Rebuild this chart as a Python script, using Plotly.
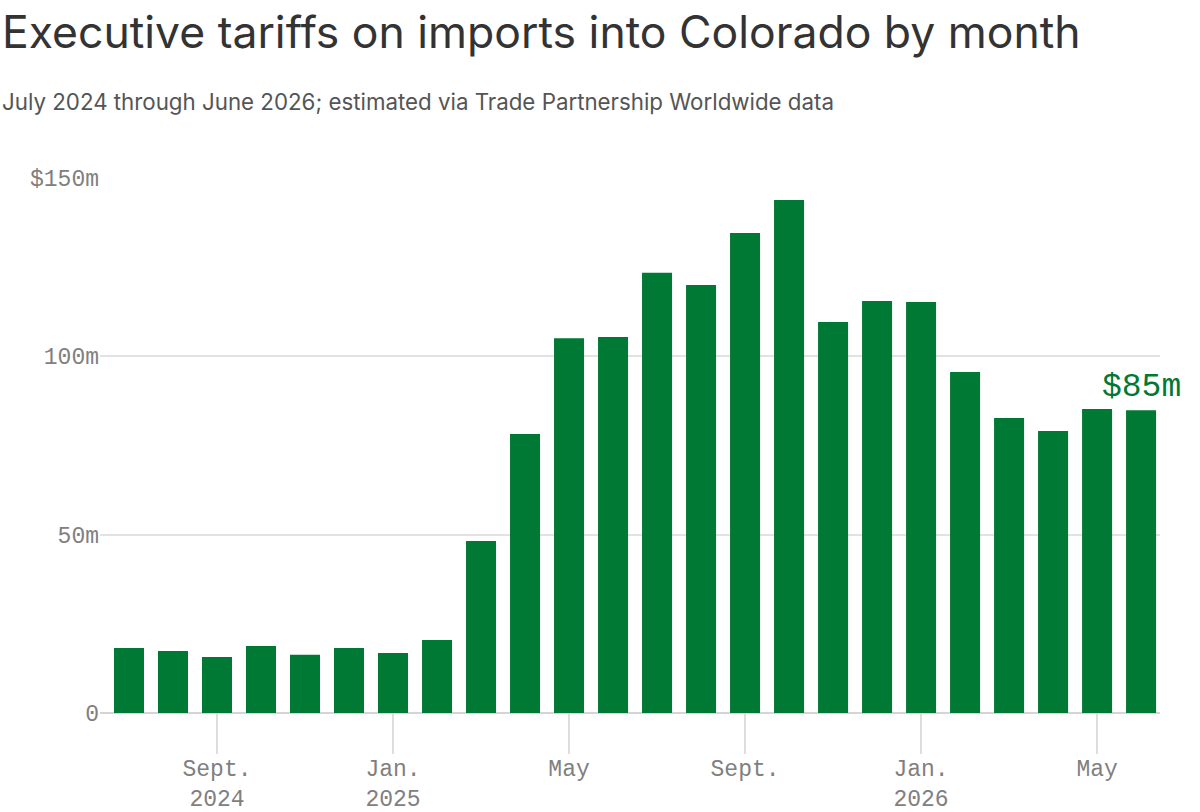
import plotly.graph_objects as go

months = ["Jul 2024", "Aug 2024", "Sep 2024", "Oct 2024", "Nov 2024", "Dec 2024",
          "Jan 2025", "Feb 2025", "Mar 2025", "Apr 2025", "May 2025", "Jun 2025",
          "Jul 2025", "Aug 2025", "Sep 2025", "Oct 2025", "Nov 2025", "Dec 2025",
          "Jan 2026", "Feb 2026", "Mar 2026", "Apr 2026", "May 2026", "Jun 2026"]
tariffs_m = [18.2, 17.4, 15.7, 18.8, 16.3, 18.2, 16.8, 20.5, 48.2, 78.2, 105.1, 105.4,
             123.4, 120.0, 134.6, 143.8, 109.6, 115.5, 115.2, 95.6, 82.7, 79.1, 85.2, 84.9]

x_tickvals = ["Sep 2024", "Jan 2025", "May 2025", "Sep 2025", "Jan 2026", "May 2026"]
x_ticktext = ["Sept.<br>2024", "Jan.<br>2025", "May", "Sept.", "Jan.<br>2026", "May"]
y_tickvals = [0, 50, 100, 150]
y_ticktext = ["0", "50m", "100m", "$150m"]

GREEN = "#007934"
MONO = "Liberation Mono, DejaVu Sans Mono, monospace"
SANS = "Inter, Roboto, sans-serif"

fig = go.Figure(go.Bar(
    x=months, y=tariffs_m, marker=dict(color=GREEN, line=dict(width=0)),
    width=0.682, hoverinfo="x+y",
))

fig.update_layout(
    width=1200, height=812,
    margin=dict(l=100, r=40, t=178, b=99, autoexpand=False),
    paper_bgcolor="white", plot_bgcolor="white",
    showlegend=False,
    annotations=[
        dict(text="Executive tariffs on imports into Colorado by month",
             xref="paper", yref="paper", x=-100 / 1060, y=1 + (178 - 32) / 535,
             xanchor="left", yanchor="middle", showarrow=False,
             font=dict(family=SANS, size=44.5, color="#333333")),
        dict(text="July 2024 through June 2026; estimated via Trade Partnership Worldwide data",
             xref="paper", yref="paper", x=-100 / 1060, y=1 + (178 - 101) / 535,
             xanchor="left", yanchor="middle", showarrow=False,
             font=dict(family=SANS, size=22.3, color="#555555")),
        dict(text="$85m", x="Jun 2026", y=tariffs_m[-1], xref="x", yref="y",
             xanchor="right", yanchor="bottom", xshift=42, yshift=2, showarrow=False,
             font=dict(family=MONO, size=33, color=GREEN)),
    ],
)

fig.update_xaxes(
    type="category", range=[-0.659, 23.43], automargin=False,
    tickmode="array", tickvals=x_tickvals, ticktext=x_ticktext,
    ticks="outside", ticklen=40, tickcolor="#dddddd", tickwidth=1.5,
    ticklabelstandoff=-6,
    showgrid=False, showline=False, zeroline=False,
    tickfont=dict(family=MONO, size=23, color="#808080"),
)
fig.update_yaxes(
    range=[0, 150], tickmode="array", tickvals=y_tickvals, ticktext=y_ticktext,
    automargin=False,
    showgrid=True, gridcolor="#e2e2e2", gridwidth=1.5,
    zeroline=True, zerolinecolor="#d5d5d5", zerolinewidth=2,
    showline=False, ticks="",
    tickfont=dict(family=MONO, size=23, color="#808080"),
)

fig.write_html("out.html", config={"displayModeBar": False},
               post_script="document.body.style.margin='0';")
